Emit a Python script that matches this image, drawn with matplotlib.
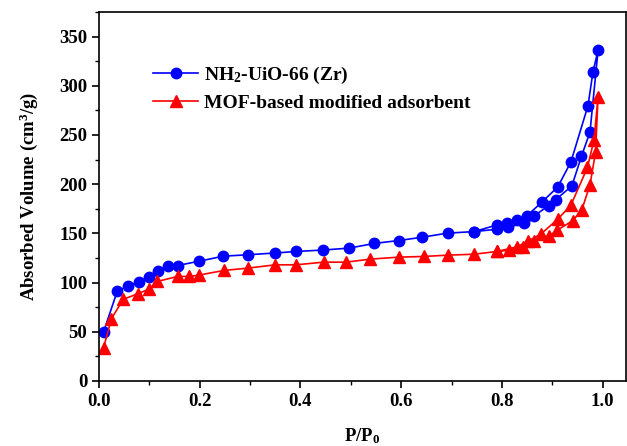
import numpy as np
import matplotlib
matplotlib.use("Agg")
import matplotlib.pyplot as plt
from matplotlib.ticker import MultipleLocator

plt.rcParams['font.family'] = ['Liberation Serif', 'DejaVu Serif']
plt.rcParams['font.weight'] = 'bold'
plt.rcParams['mathtext.fontset'] = 'custom'
plt.rcParams['mathtext.rm'] = 'Liberation Serif:bold'
plt.rcParams['mathtext.it'] = 'Liberation Serif:bold'
plt.rcParams['mathtext.bf'] = 'Liberation Serif:bold'

# NH2-UiO-66 (Zr): adsorption then desorption branch
uio_p = [0.009, 0.036, 0.058, 0.079, 0.099, 0.118, 0.137, 0.156, 0.199, 0.247,
         0.295, 0.349, 0.392, 0.444, 0.497, 0.546, 0.595, 0.641, 0.692, 0.745,
         0.791, 0.813, 0.844, 0.863, 0.893, 0.907, 0.939, 0.958, 0.975, 0.991,
         0.981, 0.971, 0.937, 0.911, 0.880, 0.850, 0.831, 0.810, 0.791, 0.745]
uio_v = [50, 91, 96.5, 101, 105.5, 112, 116.7, 117.3, 121.7, 126.8,
         128.2, 130, 131.6, 133, 135, 139.7, 142.7, 146, 150.2, 151.8,
         154.2, 156.2, 160.6, 167.4, 178.2, 184.3, 198.2, 228.3, 253, 336,
         314.5, 279.7, 222.5, 197.2, 182, 168, 164, 161, 158.6, 151.8]

# MOF-based modified adsorbent
mof_p = [0.009, 0.0245, 0.048, 0.077, 0.099, 0.116, 0.156, 0.178, 0.198, 0.248,
         0.295, 0.350, 0.391, 0.446, 0.490, 0.539, 0.595, 0.645, 0.692, 0.745,
         0.791, 0.815, 0.842, 0.863, 0.893, 0.910, 0.941, 0.959, 0.975, 0.986, 0.991,
         0.983, 0.970, 0.937, 0.911, 0.878, 0.852, 0.830, 0.791]
mof_v = [33.8, 63.2, 82.9, 88.6, 93.3, 101.1, 106.2, 106.2, 107.5, 112.3,
         114.6, 118, 118, 120.7, 120.7, 123.8, 125.8, 126.5, 127.8, 128.8,
         131.6, 132.9, 136, 142, 147.1, 153.2, 163, 174.2, 199.5, 232.3, 289,
         245.2, 217, 178.6, 164.4, 149.5, 142, 136.3, 131.6]

fig = plt.figure(figsize=(6.27, 4.46), dpi=100)
ax = fig.add_axes([0.158, 0.146, 0.84, 0.827])

ax.plot(uio_p, uio_v, color='blue', marker='o', markersize=7.5, lw=1.2,
        label=r'NH$_2$-UiO-66 (Zr)')
ax.plot(mof_p, mof_v, color='red', marker='^', markersize=8, lw=1.2,
        label='MOF-based modified adsorbent')

ax.set_xlim(0, 1.046)
ax.set_ylim(0, 375)
ax.xaxis.set_major_locator(MultipleLocator(0.2))
ax.xaxis.set_minor_locator(MultipleLocator(0.1))
ax.yaxis.set_major_locator(MultipleLocator(50))
ax.yaxis.set_minor_locator(MultipleLocator(25))
ax.tick_params(which='major', length=5, width=1.2, labelsize=13.5)
ax.tick_params(which='minor', length=3, width=1.0)
ax.xaxis.set_major_formatter(matplotlib.ticker.FormatStrFormatter('%.1f'))
for sp in ax.spines.values():
    sp.set_linewidth(1.2)

ax.set_xlabel(r'P/P$_0$', fontsize=13.5, fontweight='bold', labelpad=12)
ax.set_ylabel(r'Absorbed Volume (cm$^3$/g)', fontsize=13.5, fontweight='bold', labelpad=14)

ax.legend(loc='upper left', bbox_to_anchor=(0.07, 0.905), frameon=False,
          handlelength=2.3, handletextpad=0.3, labelspacing=0.45,
          prop={'weight': 'bold', 'size': 14})

fig.savefig('out.png', dpi=100)
